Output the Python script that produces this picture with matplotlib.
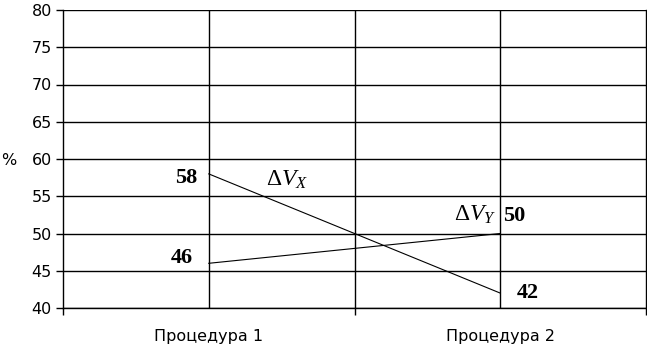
import matplotlib.pyplot as plt
from matplotlib.ticker import FixedLocator

categories = ["Процедура 1", "Процедура 2"]
dvx = [58, 42]
dvy = [46, 50]
y_ticks = [40, 45, 50, 55, 60, 65, 70, 75, 80]

plt.rcParams['font.family'] = ['DejaVu Sans']
plt.rcParams['mathtext.fontset'] = 'custom'
plt.rcParams['mathtext.rm'] = 'Liberation Serif'
plt.rcParams['mathtext.it'] = 'Liberation Serif:italic'

fig = plt.figure(figsize=(6.47, 3.47), dpi=100)
ax = fig.add_axes([63 / 647, 1 - 308 / 347, 583 / 647, 298 / 347])

x = [1, 2]
ax.plot(x, dvx, color='black', lw=0.8)
ax.plot(x, dvy, color='black', lw=0.8)

ax.set_xlim(0.5, 2.5)
ax.set_ylim(40, 80)
ax.set_yticks(y_ticks)
ax.set_xticks(x)
ax.set_xticklabels(categories, fontsize=11.5)
ax.xaxis.set_minor_locator(FixedLocator([0.5, 1.5, 2.5]))
ax.tick_params(axis='x', which='major', length=0, pad=15)
ax.tick_params(axis='x', which='minor', length=5, width=1, direction='out')
ax.tick_params(axis='y', length=5, width=1, direction='out', labelsize=11.5, pad=3)

for yv in y_ticks:
    ax.axhline(yv, color='black', lw=1)
for xv in [1, 1.5, 2]:
    ax.axvline(xv, color='black', lw=1)
for s in ax.spines.values():
    s.set_linewidth(1)
ax.spines['top'].set_visible(False)

ax.set_ylabel('%', rotation=0, fontsize=11.5)
ax.yaxis.set_label_coords(-0.093, 0.47)

lab = dict(family='Liberation Serif', fontweight='bold', fontsize=16)
ax.text(0.96, 57.45, str(dvx[0]), ha='right', va='center', **lab)
ax.text(0.946, 46.7, str(dvy[0]), ha='right', va='center', **lab)
ax.text(2.01, 52.3, str(dvy[1]), ha='left', va='center', **lab)
ax.text(2.057, 42.0, str(dvx[1]), ha='left', va='center', **lab)

ax.text(1.268, 57.3, r'$\Delta V_X$', ha='center', va='center', fontsize=17)
ax.text(1.913, 52.6, r'$\Delta V_Y$', ha='center', va='center', fontsize=17)

fig.savefig('out.png', dpi=100)
